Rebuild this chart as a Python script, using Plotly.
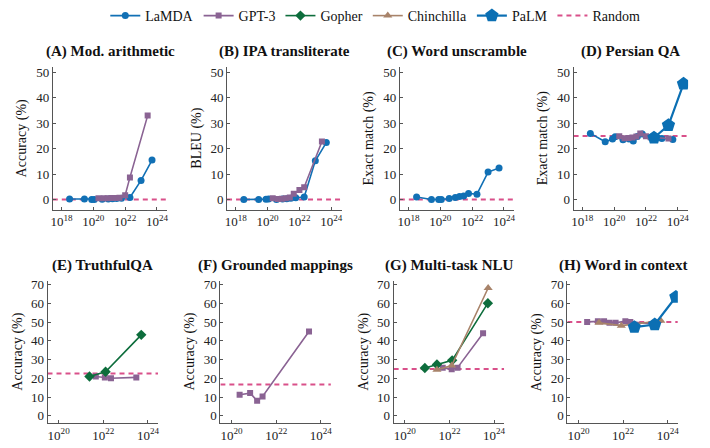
import plotly.graph_objects as go

# ---------------- data (x = training FLOPs, y = score %) ----------------
LAMDA_X = [3.2e18, 2.75e19, 7.9e19, 1.15e20, 3.6e20, 8.7e20, 1.6e21, 2.9e21, 5.9e21, 2.0e22, 1.0e23, 4.9e23]
GPT3_X = [2.1e20, 4.5e20, 7.9e20, 1.4e21, 2.5e21, 4.4e21, 1.0e22, 2.0e22, 2.6e23]
PALM_X = [3.2e22, 2.6e23, 2.3e24]

# (A) Modular arithmetic
A_LAMDA = [0.2, 0.2, 0.0, 0.0, 0.1, 0.2, 0.3, 0.4, 0.5, 0.8, 7.5, 15.5]
A_GPT3 = [0.5, 0.5, 0.5, 0.6, 0.6, 0.7, 1.7, 8.7, 33.0]
# (B) IPA transliterate
B_LAMDA = [0.0, 0.0, 0.1, 0.2, 0.0, 0.2, 0.3, 0.5, 0.7, 1.0, 15.2, 22.4]
B_GPT3 = [0.5, 0.2, 0.3, 0.5, 0.8, 2.3, 3.7, 4.8, 22.8]
# (C) Word unscramble
C_LAMDA = [1.0, 0.0, 0.0, 0.0, 0.4, 0.8, 1.2, 1.4, 2.4, 2.1, 10.8, 12.4]
# (D) Persian QA
D_LAMDA = [26.0, 22.7, 23.8, 24.7, 23.5, 23.8, 23.0, 24.8, 25.8, 24.5, 24.0, 23.6]
D_GPT3 = [24.9, 24.1, 24.2, 24.4, 24.8, 26.0, 24.9, 24.5, 24.0]
D_PALM = [24.3, 29.2, 45.5]

# (E) TruthfulQA
E_GOPHER_X = [2.4e21, 1.26e22, 5.0e23]
E_GOPHER = [21.0, 23.5, 43.2]
E_GPT3_X = [4.6e21, 1.17e22, 2.2e22, 3.0e23]
E_GPT3 = [21.0, 20.5, 20.0, 20.5]
# (F) Grounded mappings
F_GPT3_X = [2.3e20, 6.8e20, 1.4e21, 2.45e21, 2.95e23]
F_GPT3 = [11.2, 12.1, 8.0, 10.3, 45.0]
# (G) Multi-task NLU
G_GOPHER_X = [7.9e20, 2.75e21, 1.32e22, 5.25e23]
G_GOPHER = [25.5, 27.4, 29.6, 60.1]
G_CHIN_X = [2.75e21, 1.26e22, 5.4e23]
G_CHIN = [24.6, 26.8, 68.2]
G_GPT3_X = [5.0e21, 1.26e22, 2.3e22, 3.2e23]
G_GPT3 = [25.7, 24.8, 25.7, 44.0]
# (H) Word in context
H_GPT3_X = [2.45e20, 7.4e20, 1.4e21, 2.45e21, 4.6e21, 1.26e22, 2.1e22, 2.75e23]
H_GPT3 = [50.1, 50.5, 50.5, 49.6, 49.6, 50.5, 50.1, 49.0]
H_CHIN_X = [8.3e20, 8.3e21, 4.9e23]
H_CHIN = [49.6, 48.1, 50.7]
H_PALM = [47.3, 48.7, 63.4]

RANDOM = {"A": 0, "B": 0, "C": 0, "D": 25, "E": 22.6, "F": 16.7, "G": 25, "H": 50}

TITLES = {"A": "(A) Mod. arithmetic", "B": "(B) IPA transliterate", "C": "(C) Word unscramble",
          "D": "(D) Persian QA", "E": "(E) TruthfulQA", "F": "(F) Grounded mappings",
          "G": "(G) Multi-task NLU", "H": "(H) Word in context"}
YTITLES = {"A": "Accuracy (%)", "B": "BLEU (%)", "C": "Exact match (%)", "D": "Exact match (%)",
           "E": "Accuracy (%)", "F": "Accuracy (%)", "G": "Accuracy (%)", "H": "Accuracy (%)"}

# ---------------- styling ----------------
W, H = 710, 448
FONT = "Liberation Serif"
COL_LAMDA = "#1170b5"
COL_GPT3 = "#8a6393"
COL_GOPHER = "#0d6d3c"
COL_CHIN = "#a8836a"
COL_PALM = "#0b6fb3"
COL_RAND = "#d9508a"

STYLE = {
    "LaMDA": dict(color=COL_LAMDA, symbol="circle", size=7, width=1.6, rank=1),
    "GPT-3": dict(color=COL_GPT3, symbol="square", size=6, width=1.6, rank=2),
    "Gopher": dict(color=COL_GOPHER, symbol="diamond", size=8, width=1.6, rank=3),
    "Chinchilla": dict(color=COL_CHIN, symbol="triangle-up", size=8, width=1.6, rank=4),
    "PaLM": dict(color=COL_PALM, symbol="pentagon", size=14, width=2.2, rank=5),
}

# axis boxes in pixels: (left, right, top, bottom)
BOX = {
    "A": (51, 166, 63, 207), "B": (226, 341, 63, 207), "C": (399.5, 514.5, 63, 207), "D": (574, 689, 63, 207),
    "E": (45.7, 156.7, 279, 423), "F": (219.3, 330.3, 279, 423), "G": (393.3, 504.3, 279, 423), "H": (567.7, 678.7, 279, 423),
}
TOP_XR = [17.45, 24.65]
BOT_XR = [19.5, 24.45]

panels = {
    "A": [("LaMDA", LAMDA_X, A_LAMDA), ("GPT-3", GPT3_X, A_GPT3)],
    "B": [("LaMDA", LAMDA_X, B_LAMDA), ("GPT-3", GPT3_X, B_GPT3)],
    "C": [("LaMDA", LAMDA_X, C_LAMDA)],
    "D": [("LaMDA", LAMDA_X, D_LAMDA), ("GPT-3", GPT3_X, D_GPT3), ("PaLM", PALM_X, D_PALM)],
    "E": [("GPT-3", E_GPT3_X, E_GPT3), ("Gopher", E_GOPHER_X, E_GOPHER)],
    "F": [("GPT-3", F_GPT3_X, F_GPT3)],
    "G": [("GPT-3", G_GPT3_X, G_GPT3), ("Gopher", G_GOPHER_X, G_GOPHER), ("Chinchilla", G_CHIN_X, G_CHIN)],
    "H": [("GPT-3", H_GPT3_X, H_GPT3), ("Chinchilla", H_CHIN_X, H_CHIN), ("PaLM", PALM_X, H_PALM)],
}

fig = go.Figure()
shown = set()
annotations = []
layout_axes = {}

for i, key in enumerate("ABCDEFGH"):
    n = i + 1
    xa = "x" if n == 1 else f"x{n}"
    ya = "y" if n == 1 else f"y{n}"
    l, r, t, b = BOX[key]
    top = key in "ABCD"
    xr = TOP_XR if top else BOT_XR
    yr = [-4, 52] if top else [-4, 72]
    yt = [0, 10, 20, 30, 40, 50] if top else [0, 10, 20, 30, 40, 50, 60, 70]
    xt = [1e18, 1e20, 1e22, 1e24] if top else [1e20, 1e22, 1e24]
    xtt = ["10<sup>18</sup>", "10<sup>20</sup>", "10<sup>22</sup>", "10<sup>24</sup>"] if top else \
          ["10<sup>20</sup>", "10<sup>22</sup>", "10<sup>24</sup>"]

    # random baseline (drawn first, below data)
    fig.add_trace(go.Scatter(
        x=[10 ** xr[0], 10 ** xr[1]], y=[RANDOM[key], RANDOM[key]], mode="lines",
        line=dict(color=COL_RAND, width=2, dash="5px,4px"), name="Random",
        legendrank=6, showlegend="Random" not in shown, xaxis=xa, yaxis=ya, hoverinfo="skip"))
    shown.add("Random")

    for name, xs, ys in panels[key]:
        s = STYLE[name]
        fig.add_trace(go.Scatter(
            x=xs, y=ys, mode="lines+markers", name=name,
            line=dict(color=s["color"], width=s["width"]),
            marker=dict(symbol=s["symbol"], size=s["size"], color=s["color"], line=dict(width=0)),
            legendrank=s["rank"], showlegend=name not in shown, xaxis=xa, yaxis=ya))
        shown.add(name)

    axis_common = dict(showgrid=False, zeroline=False, showline=True, linecolor="#555555", linewidth=1,
                       ticks="inside", ticklen=3, tickcolor="#555555",
                       tickfont=dict(family=FONT, size=13, color="#222222"))
    layout_axes["xaxis" if n == 1 else f"xaxis{n}"] = dict(
        domain=[l / W, r / W], anchor=ya, type="log", range=xr,
        tickvals=xt, ticktext=xtt, **axis_common)
    layout_axes["yaxis" if n == 1 else f"yaxis{n}"] = dict(
        domain=[1 - b / H, 1 - t / H], anchor=xa, range=yr, tickvals=yt, **axis_common)

    annotations.append(dict(
        text=f"<b>{TITLES[key]}</b>", x=(l + r) / 2 / W, y=1 - (t - 16) / H,
        xref="paper", yref="paper", xanchor="center", yanchor="middle", showarrow=False,
        font=dict(family=FONT, size=15, color="#111111")))
    annotations.append(dict(
        text=YTITLES[key], x=(l - 30) / W, y=1 - ((t + b) / 2) / H, textangle=-90,
        xref="paper", yref="paper", xanchor="center", yanchor="middle", showarrow=False,
        font=dict(family=FONT, size=14, color="#111111")))

fig.update_layout(
    width=W, height=H, margin=dict(l=0, r=0, t=0, b=0),
    paper_bgcolor="white", plot_bgcolor="white",
    font=dict(family=FONT, size=13, color="#111111"),
    legend=dict(orientation="h", x=0.528, xanchor="center", y=1 - 11 / H, yanchor="middle",
                font=dict(family=FONT, size=14), itemwidth=30, bgcolor="rgba(0,0,0,0)"),
    annotations=annotations,
    **layout_axes,
)

fig.write_html("out.html", config={"displayModeBar": False},
               post_script="document.body.style.margin='0';")
